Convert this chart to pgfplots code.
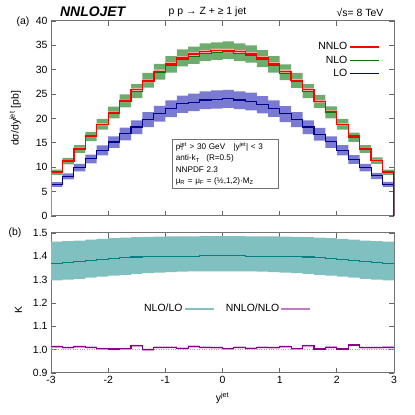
\documentclass[border=0pt]{standalone}
\usepackage{pgfplots}
\pgfplotsset{compat=1.18}
\usepackage{pgfplotstable}
\usepgfplotslibrary{fillbetween}
\usepackage{fontspec}
\setmainfont{Liberation Sans}

\definecolor{nnloline}{RGB}{255,0,0}
\definecolor{nnloband}{RGB}{255,165,165}
\definecolor{nloline}{RGB}{0,120,0}
\definecolor{nloband}{RGB}{110,172,110}
\definecolor{loline}{RGB}{0,0,140}
\definecolor{loband}{RGB}{122,122,210}
\definecolor{kline}{RGB}{0,128,128}
\definecolor{kband}{RGB}{128,192,192}
\definecolor{rline}{RGB}{140,0,140}
\definecolor{rband}{RGB}{212,150,212}

% left bin edges, last row repeated at x=3 for the step plots
\pgfplotstableread{
x    nnlo  nnloup nnlolo nlo    nloup nlolo lo     loup  lolo  k     kup   klo   r     rup   rlo
-3.0 9.00  9.11  8.91   8.885  9.49  8.41  6.485  6.97  5.97  1.370 1.463 1.297 1.013 1.017 1.008
-2.8 11.30 11.44 11.19  11.199 11.94 10.60 8.151  8.76  7.50  1.374 1.465 1.300 1.009 1.013 1.004
-2.6 13.85 14.02 13.71  13.672 14.56 12.93 9.922  10.67 9.13  1.378 1.467 1.303 1.013 1.017 1.008
-2.4 16.40 16.60 16.24  16.238 17.27 15.36 11.733 12.61 10.79 1.384 1.472 1.309 1.010 1.014 1.005
-2.2 18.80 19.03 18.61  18.725 19.90 17.71 13.491 14.50 12.41 1.388 1.475 1.313 1.004 1.008 0.999
-2.0 21.20 21.45 20.99  21.137 22.44 20.00 15.185 16.32 13.97 1.392 1.478 1.317 1.003 1.007 0.998
-1.8 23.60 23.88 23.36  23.506 24.94 22.26 16.850 18.11 15.50 1.395 1.480 1.321 1.004 1.008 0.999
-1.6 25.95 26.26 25.69  25.516 27.07 24.20 18.265 19.63 16.80 1.397 1.482 1.325 1.017 1.021 1.012
-1.4 27.70 28.03 27.42  27.700 29.38 26.31 19.814 21.30 18.23 1.398 1.483 1.328 1.000 1.004 0.995
-1.2 29.70 30.06 29.40  29.406 31.19 27.96 21.019 22.60 19.34 1.399 1.484 1.330 1.010 1.014 1.005
-1.0 31.20 31.57 30.89  30.891 32.77 29.39 22.065 23.72 20.30 1.400 1.485 1.332 1.010 1.014 1.005
-0.8 32.40 32.79 32.08  32.207 34.16 30.67 22.988 24.71 21.15 1.401 1.486 1.334 1.006 1.010 1.001
-0.6 33.20 33.60 32.87  32.742 34.73 31.20 23.371 25.12 21.50 1.401 1.486 1.335 1.014 1.018 1.009
-0.4 33.70 34.10 33.36  33.366 35.39 31.79 23.799 25.58 21.90 1.402 1.487 1.336 1.010 1.014 1.005
-0.2 33.90 34.31 33.56  33.597 35.63 32.01 23.964 25.76 22.05 1.402 1.487 1.336 1.009 1.013 1.004
0.0  33.90 34.31 33.56  33.765 35.81 32.17 24.083 25.89 22.16 1.402 1.487 1.336 1.004 1.008 0.999
0.2  33.70 34.10 33.36  33.366 35.39 31.79 23.799 25.58 21.90 1.402 1.487 1.336 1.010 1.014 1.005
0.4  33.20 33.60 32.87  33.002 35.00 31.45 23.556 25.32 21.67 1.401 1.486 1.335 1.006 1.010 1.001
0.6  32.40 32.79 32.08  32.079 34.03 30.55 22.897 24.61 21.07 1.401 1.486 1.334 1.010 1.014 1.005
0.8  31.20 31.57 30.89  30.922 32.80 29.42 22.087 23.74 20.32 1.400 1.485 1.332 1.009 1.013 1.004
1.0  29.70 30.06 29.40  29.319 31.10 27.87 20.957 22.53 19.28 1.399 1.484 1.330 1.013 1.017 1.008
1.2  27.80 28.13 27.52  27.689 29.37 26.30 19.806 21.29 18.22 1.398 1.483 1.328 1.004 1.008 0.999
1.4  25.90 26.21 25.64  25.492 27.04 24.18 18.248 19.62 16.79 1.397 1.482 1.325 1.016 1.020 1.011
1.6  23.50 23.78 23.27  23.430 24.86 22.19 16.796 18.06 15.45 1.395 1.480 1.321 1.003 1.007 0.998
1.8  21.40 21.66 21.19  21.167 22.48 20.03 15.206 16.35 13.99 1.392 1.478 1.317 1.011 1.015 1.006
2.0  18.80 19.03 18.61  18.744 19.92 17.73 13.504 14.52 12.42 1.388 1.475 1.313 1.003 1.007 0.998
2.2  16.40 16.60 16.24  16.078 17.10 15.21 11.617 12.49 10.69 1.384 1.472 1.309 1.020 1.024 1.015
2.4  13.80 13.97 13.66  13.677 14.56 12.93 9.925  10.67 9.13  1.378 1.467 1.303 1.009 1.013 1.004
2.6  11.40 11.54 11.29  11.298 12.05 10.69 8.223  8.84  7.57  1.374 1.465 1.300 1.009 1.013 1.004
2.8  9.00  9.11  8.91   8.902  9.51  8.43  6.498  6.99  5.98  1.370 1.463 1.297 1.011 1.015 1.006
3.0  9.00  9.11  8.91   8.902  9.51  8.43  6.498  6.99  5.98  1.370 1.463 1.297 1.011 1.015 1.006
}\data

\pgfplotsset{
  gp/.style={
    scale only axis, width=343bp,
    xmin=-3, xmax=3, xtick={-3,...,3},
    axis line style={black!55, line width=1bp},
    tick style={black!60, line width=0.8bp},
    major tick length=5bp,
    ticklabel style={font=\fontsize{10.5}{12}\selectfont},
    /pgf/number format/assume math mode=true,
    label style={font=\fontsize{10.5}{12}\selectfont},
    legend image code/.code={\draw[##1] (0bp,0bp) -- (29bp,0bp);},
  },
}

\begin{document}
\begin{tikzpicture}

\begin{axis}[gp, at={(51bp,199bp)}, anchor=south west, height=195bp,
  ymin=0, ymax=40, ytick={0,5,...,40}, xticklabels={},
  ylabel={dσ/dy\textsuperscript{jet} [pb]},
  ylabel style={at={(axis description cs:-0.105,0.5)}, anchor=center},
  reverse legend, legend plot pos=right, legend cell align=right,
  legend style={draw=none, fill=none, at={(axis description cs:0.966,0.91)}, anchor=north east,
    font=\fontsize{10.5}{12}\selectfont, row sep=0.8bp,
    nodes={inner sep=1.5bp, text height=7.5bp, text depth=2bp}},
]
\addplot[name path=loU, draw=none, const plot, forget plot] table[x=x,y=loup]{\data};
\addplot[name path=loL, draw=none, const plot, forget plot] table[x=x,y=lolo]{\data};
\addplot[loband, forget plot] fill between[of=loU and loL];
\addplot[name path=nloU, draw=none, const plot, forget plot] table[x=x,y=nloup]{\data};
\addplot[name path=nloL, draw=none, const plot, forget plot] table[x=x,y=nlolo]{\data};
\addplot[nloband, forget plot] fill between[of=nloU and nloL];
\addplot[name path=nnloU, draw=none, const plot, forget plot] table[x=x,y=nnloup]{\data};
\addplot[name path=nnloL, draw=none, const plot, forget plot] table[x=x,y=nnlolo]{\data};
\addplot[nnloband, forget plot] fill between[of=nnloU and nnloL];

\addplot[loline, line width=1.1bp, const plot] table[x=x,y=lo]{\data};
\addlegendentry{LO}
\addplot[nloline, line width=1.1bp, const plot] table[x=x,y=nlo]{\data};
\addlegendentry{NLO}
\addplot[nnloline, line width=1.3bp, const plot] table[x=x,y=nnlo]{\data};
\addlegendentry{NNLO}
\addplot[nnloline!60, line width=1.3bp, forget plot] coordinates {(-3,0) (-3,9.00)};
\addplot[nnloline!60!black, line width=1.3bp, forget plot] coordinates {(3,9.00) (3,0)};

\node[draw=black!55, fill=white, anchor=north west, align=left, inner sep=3.5bp,
  text width=99bp, font=\fontsize{8.2}{11.3}\selectfont]
  at (rel axis cs:0.353,0.395)
  {p\rlap{\textsubscript{T}}\textsuperscript{jet} > 30 GeV\hspace{1em}|y\textsuperscript{jet}| < 3\\
   anti-k\textsubscript{T}\hspace{0.8em}(R=0.5)\\
   NNPDF 2.3\\
   μ\textsubscript{R} = μ\textsubscript{F} = (½,1,2)·M\textsubscript{Z}};
\end{axis}

\begin{axis}[gp, at={(51bp,42bp)}, anchor=south west, height=140bp,
  ymin=0.9, ymax=1.5, ytick={0.9,1.0,...,1.5},
  yticklabel style={/pgf/number format/.cd, fixed, fixed zerofill, precision=1},
  xlabel={y\textsuperscript{jet}},
  xlabel style={at={(axis description cs:0.5,-0.175)}, anchor=center},
  ylabel={K},
  ylabel style={at={(axis description cs:-0.095,0.45)}, anchor=center},
  legend columns=2, legend plot pos=right,
  legend style={draw=none, fill=none, at={(axis description cs:0.258,0.457)}, anchor=west,
    font=\fontsize{10.5}{12}\selectfont,
    nodes={inner sep=1.5bp, text height=7.5bp, text depth=2bp},
    /tikz/every even column/.append style={column sep=10bp}},
]
\addplot[black!35, dotted, forget plot] coordinates {(-3,1) (3,1)};
\addplot[name path=kU, draw=none, const plot, forget plot] table[x=x,y=kup]{\data};
\addplot[name path=kL, draw=none, const plot, forget plot] table[x=x,y=klo]{\data};
\addplot[kband, forget plot] fill between[of=kU and kL];
\addplot[name path=rU, draw=none, const plot, forget plot] table[x=x,y=rup]{\data};
\addplot[name path=rL, draw=none, const plot, forget plot] table[x=x,y=rlo]{\data};
\addplot[rband, forget plot] fill between[of=rU and rL];

\addplot[kline, line width=1.1bp, const plot, legend image post style={kband, line width=1.3bp}] table[x=x,y=k]{\data};
\addlegendentry{NLO/LO}
\addplot[rline, line width=1.1bp, const plot, legend image post style={rband!80!rline, line width=1.3bp}] table[x=x,y=r]{\data};
\addlegendentry{NNLO/NLO}
\end{axis}

\node[font=\fontsize{14}{16}\selectfont\bfseries\itshape] at (92.7bp,403bp) {NNLOJET};
\node[font=\fontsize{10.5}{12}\selectfont] at (207.5bp,403bp) {p p → Z + ≥ 1 jet};
\node[font=\fontsize{10.5}{12}\selectfont] at (360bp,403bp) {√s= 8 TeV};
\node[font=\fontsize{10.5}{12}\selectfont] at (23bp,393bp) {(a)};
\node[font=\fontsize{10.5}{12}\selectfont] at (15bp,182bp) {(b)};
\path (0,0) rectangle (415bp,415bp);
\end{tikzpicture}
\end{document}
